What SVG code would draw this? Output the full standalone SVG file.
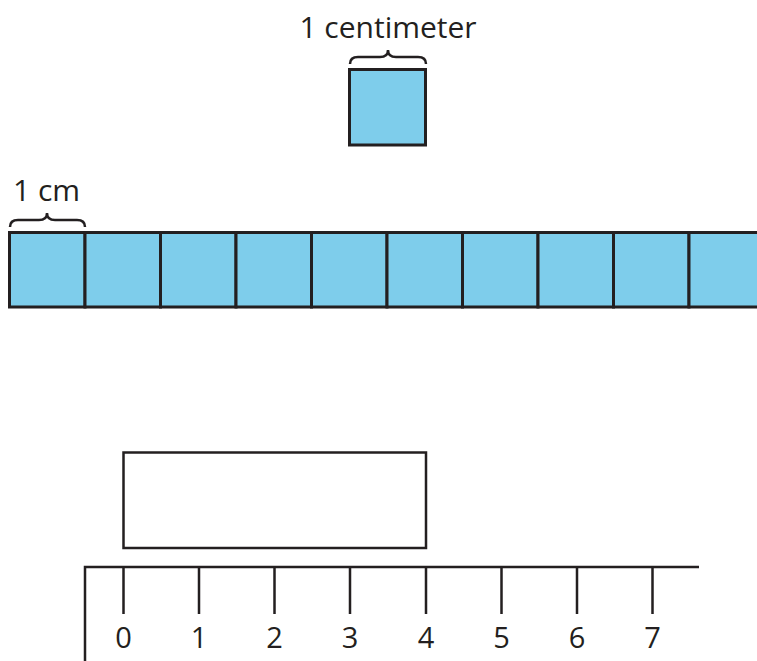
<svg xmlns="http://www.w3.org/2000/svg" width="757" height="661" viewBox="0 0 757 661">
<style>
.lbl{font-family:"Open Sans","Noto Sans",sans-serif;font-size:30px;fill:#231f20}
.num{font-family:"Open Sans","Noto Sans",sans-serif;font-size:29px;fill:#231f20;text-anchor:middle}
.cell{fill:#7ecdeb;stroke:#231f20;stroke-width:3}
.ln{stroke:#231f20;stroke-width:2.5;fill:none}
.brace{stroke:#231f20;stroke-width:2.5;fill:none}
</style>
<rect width="757" height="661" fill="#fff"/>
<g id="unit-square">
<text class="lbl" x="388" y="38" text-anchor="middle">1 centimeter</text>
<path class="brace" d="M350,64 Q350,57 358,57 L380,57 Q388,57 388,50 Q388,57 396,57 L418,57 Q426,57 426,64"/>
<rect class="cell" x="349.5" y="69.5" width="76" height="75.5"/>
</g>
<g id="strip">
<text class="lbl" x="13" y="201">1 cm</text>
<path class="brace" d="M10,227 Q10,220 18,220 L39,220 Q47,220 47,213 Q47,220 55,220 L77,220 Q85,220 85,227"/>
<rect class="cell" x="9.5" y="232.5" width="75.5" height="74.5"/>
<rect class="cell" x="85" y="232.5" width="75.5" height="74.5"/>
<rect class="cell" x="160.5" y="232.5" width="75.5" height="74.5"/>
<rect class="cell" x="236" y="232.5" width="75.5" height="74.5"/>
<rect class="cell" x="311.5" y="232.5" width="75.5" height="74.5"/>
<rect class="cell" x="387" y="232.5" width="75.5" height="74.5"/>
<rect class="cell" x="462.5" y="232.5" width="75.5" height="74.5"/>
<rect class="cell" x="538" y="232.5" width="75.5" height="74.5"/>
<rect class="cell" x="613.5" y="232.5" width="75.5" height="74.5"/>
<rect class="cell" x="689" y="232.5" width="75.5" height="74.5"/>
</g>
<g id="rectangle">
<rect x="123.5" y="452.5" width="302.5" height="95.5" fill="#fff" stroke="#231f20" stroke-width="2.5"/>
</g>
<g id="ruler">
<path class="ln" d="M85,661 L85,567 L699,567"/>
<path class="ln" d="M123.5,567 V614 M199,567 V614 M274.5,567 V614 M350,567 V614 M426,567 V614 M501.5,567 V614 M577,567 V614 M652.5,567 V614"/>
<text class="num" x="123.5" y="648">0</text>
<text class="num" x="199" y="648">1</text>
<text class="num" x="274.5" y="648">2</text>
<text class="num" x="350" y="648">3</text>
<text class="num" x="426" y="648">4</text>
<text class="num" x="501.5" y="648">5</text>
<text class="num" x="577" y="648">6</text>
<text class="num" x="652.5" y="648">7</text>
</g>
</svg>
